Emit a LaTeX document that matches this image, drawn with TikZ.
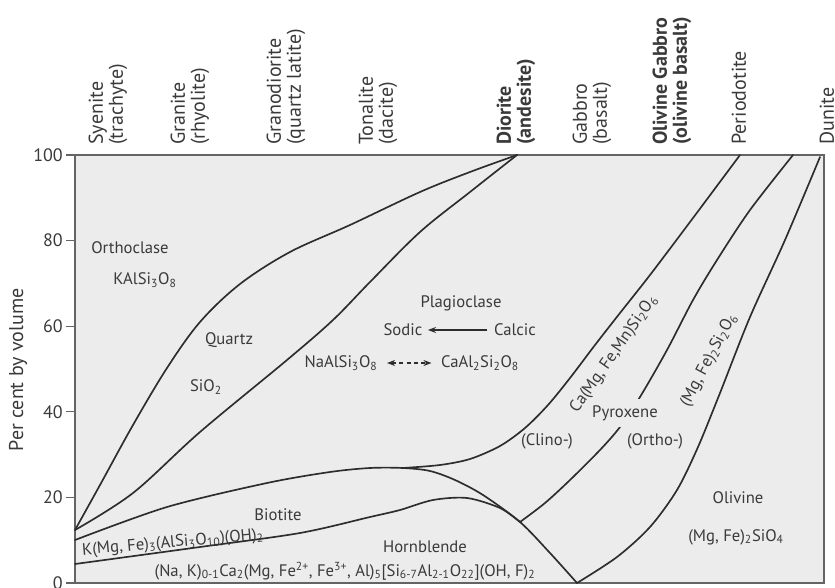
\documentclass[tikz,border=0pt]{standalone}
\usepackage{fontspec}
\setmainfont{PT Sans}
\usetikzlibrary{arrows.meta}

\definecolor{panel}{RGB}{236,236,236}
\definecolor{ink}{RGB}{58,58,58}
\definecolor{rule}{RGB}{45,45,45}
\definecolor{framec}{RGB}{100,100,100}

\newcommand{\sbs}[1]{\textsubscript{#1}}
\newcommand{\sps}[1]{\textsuperscript{#1}}

\tikzset{
  boundary/.style={draw=rule, line width=1.25pt, line cap=round},
  rocklabel/.style={rotate=90, anchor=west, inner sep=0pt, align=left,
    text=ink, font=\fontsize{15pt}{15pt}\selectfont},
  boldrock/.style={rocklabel, font=\fontsize{15pt}{15pt}\selectfont\bfseries},
  field/.style={text=ink, inner sep=1pt, font=\fontsize{12.5pt}{14pt}\selectfont},
  ticklabel/.style={text=ink, anchor=east, inner sep=0pt, font=\fontsize{13.5pt}{15pt}\selectfont},
  tip/.style={-{Stealth[length=6pt, width=4.5pt]}},
}

\begin{document}
\begin{tikzpicture}[x=0.75pt, y=-0.75pt]
\useasboundingbox (0,0) rectangle (835,588);

% plot panel
\filldraw[fill=panel, draw=framec, line width=1.5pt] (75,155) rectangle (824,583);

% y axis ticks and numbers
\foreach \v in {0,20,40,60,80,100} {
  \pgfmathsetmacro{\yy}{583-4.28*\v}
  \draw[framec, line width=1pt] (66,\yy) -- (75,\yy);
  \node[ticklabel] at (63,\yy) {\v};
}
\node[rotate=90, text=ink, font=\fontsize{15pt}{16pt}\selectfont] (ylab) at (18,370) {Per cent by volume};

% rock names along the top
\node[rocklabel] (syenite) at (108,145) {Syenite\\(trachyte)};
\node[rocklabel] (granite) at (190,145) {Granite\\(rhyolite)};
\node[rocklabel] (granod) at (286,145) {Granodiorite\\(quartz latite)};
\node[rocklabel] (tonalite) at (378,145) {Tonalite\\(dacite)};
\node[boldrock] (diorite) at (516,145) {Diorite\\(andesite)};
\node[rocklabel] (gabbro) at (592,145) {Gabbro\\(basalt)};
\node[boldrock] (olgabbro) at (672,145) {Olivine Gabbro\\(olivine basalt)};
\node[rocklabel] (perid) at (739,145) {Periodotite};
\node[rocklabel] (dunite) at (827,145) {Dunite};

% key points of the mineral boundaries
\coordinate (dio) at (517,155);
\coordinate (J1) at (403,468);
\coordinate (J2) at (520,522);
\coordinate (V) at (577,583);

% orthoclase / quartz
\draw[boundary] plot[smooth, tension=0.55] coordinates {
  (75,530) (100,485) (133,425) (167,368) (200,322) (240,284) (290,252)
  (350,225) (420,192) (470,172) (dio)};
% quartz / plagioclase
\draw[boundary] plot[smooth, tension=0.55] coordinates {
  (75,530) (133,493) (200,432) (287,360) (333,320) (370,282) (420,232)
  (470,192) (dio)};
% plagioclase / biotite, continuing down to the olivine apex
\draw[boundary] plot[smooth, tension=0.5] coordinates {
  (75,540) (167,507) (267,483) (330,472) (370,468) (J1) (430,471)
  (455,480) (483,495) (J2) (550,553) (V)};
% biotite / hornblende
\draw[boundary] plot[smooth, tension=0.5] coordinates {
  (75,564) (200,547) (300,533) (370,517) (400,510) (433,500) (467,498)
  (500,508) (J2)};
% plagioclase / clinopyroxene
\draw[boundary] plot[smooth, tension=0.5] coordinates {
  (J1) (440,465) (470,459) (500,446) (525,428) (548,405) (570,378)
  (595,345) (620,313) (650,275) (690,222) (740,155)};
% clinopyroxene / orthopyroxene
\draw[boundary] plot[smooth, tension=0.5] coordinates {
  (J2) (545,503) (570,480) (600,450) (620,427) (640,397) (667,350)
  (693,300) (717,260) (750,210) (793,155)};
% orthopyroxene / olivine
\draw[boundary] plot[smooth, tension=0.5] coordinates {
  (V) (617,557) (650,527) (677,490) (698,447) (720,393) (750,317)
  (785,240) (820,157)};

% mineral fields
\node[field] (orth) at (130,248) {Orthoclase};
\node[field] (orthf) at (145,280) {KAlSi\sbs{3}O\sbs{8}};
\node[field] (qtz) at (229,340) {Quartz};
\node[field] (qtzf) at (206,387) {SiO\sbs{2}};

\node[field] (plag) at (461,303) {Plagioclase};
\node[field] (sodic) at (403,330) {Sodic};
\node[field] (calcic) at (515,330) {Calcic};
\draw[rule, line width=0.9pt, tip, shorten >=3pt, shorten <=4pt] (calcic.west) -- (sodic.east);
\node[field] (albite) at (341,363) {NaAlSi\sbs{3}O\sbs{8}};
\node[field] (anorth) at (480,363) {CaAl\sbs{2}Si\sbs{2}O\sbs{8}};
\draw[rule, line width=0.9pt, dash pattern=on 3pt off 2.5pt,
  {Stealth[length=6pt, width=4.5pt]}-{Stealth[length=6pt, width=4.5pt]}]
  ([xshift=6pt]albite.east) -- ([xshift=-6pt]anorth.west);

\node[field] (bio) at (278,515) {Biotite};
\node[field, rotate=5] (biof) at (173,543) {K(Mg, Fe)\sbs{3}(AlSi\sbs{3}O\sbs{10})(OH)\sbs{2}};
\node[field] (hbl) at (425,547) {Hornblende};
\node[field] (hblf) at (345,571) {(Na, K)\sbs{0-1}Ca\sbs{2}(Mg, Fe\sps{2+}, Fe\sps{3+}, Al)\sbs{5}[Si\sbs{6-7}Al\sbs{2-1}O\sbs{22}](OH, F)\sbs{2}};

\node[field, rotate=55] (cpxf) at (614,354) {Ca(Mg, Fe,Mn)Si\sbs{2}O\sbs{6}};
\node[field, rotate=62] (opxf) at (709,360) {(Mg, Fe)\sbs{2}Si\sbs{2}O\sbs{6}};
\node[field, fill=panel, inner xsep=2pt, inner ysep=5pt] (pyx) at (625,413) {Pyroxene};
\node[field] (clino) at (547,441) {(Clino-)};
\node[field] (ortho) at (655,441) {(Ortho-)};

\node[field] (olv) at (738,498) {Olivine};
\node[field] (olvf) at (736,537) {(Mg, Fe)\sbs{2}SiO\sbs{4}};
\end{tikzpicture}
\end{document}
